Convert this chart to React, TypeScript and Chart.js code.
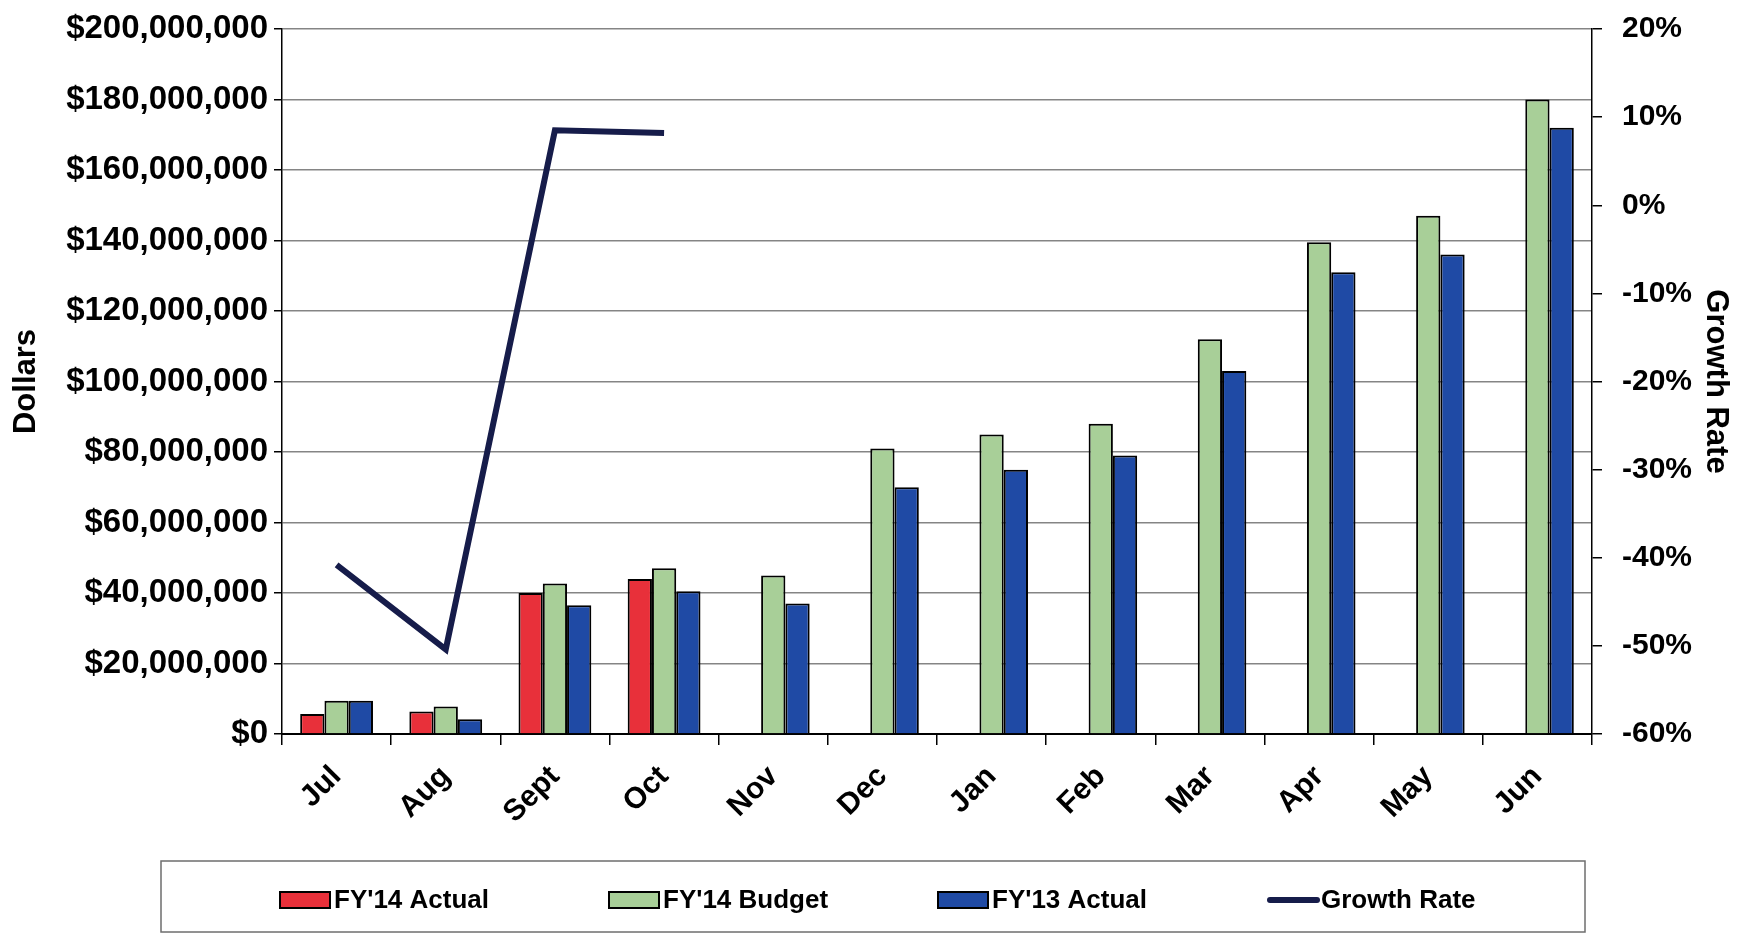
import React, { useEffect, useRef } from 'react';
import { Chart, registerables } from 'chart.js';

Chart.register(...registerables);

const months = ['Jul', 'Aug', 'Sept', 'Oct', 'Nov', 'Dec', 'Jan', 'Feb', 'Mar', 'Apr', 'May', 'Jun'];
const fy14Actual = [5.7e6, 6.4e6, 40.0e6, 44.0e6, null, null, null, null, null, null, null, null];
const fy14Budget = [9.4e6, 7.8e6, 42.7e6, 47.0e6, 45.0e6, 81.0e6, 85.0e6, 88.0e6, 112.0e6, 139.5e6, 147.0e6, 180.0e6];
const fy13Actual = [9.4e6, 4.2e6, 36.5e6, 40.5e6, 37.0e6, 70.0e6, 75.0e6, 79.0e6, 103.0e6, 131.0e6, 136.0e6, 172.0e6];
const growthRate = [-40.8, -50.4, 8.5, 8.2, null, null, null, null, null, null, null, null];

const FONT = "'Liberation Sans', Arial, Helvetica, sans-serif";

const boxLegend = {
  id: 'boxLegend',
  afterDraw(chart: any) {
    const ctx = chart.ctx as CanvasRenderingContext2D;
    const area = chart.chartArea;
    ctx.save();
    ctx.strokeStyle = '#6e6e6e';
    ctx.lineWidth = 1.5;
    ctx.strokeRect(161, 861, area.right - 7 - 161, 71);
    const startX = 280;
    const step = 329;
    const cy = 900;
    ctx.font = `bold 26px ${FONT}`;
    ctx.textBaseline = 'middle';
    ctx.textAlign = 'left';
    chart.data.datasets.forEach((ds: any, i: number) => {
      const x = startX + i * step;
      if (ds.type === 'line') {
        ctx.strokeStyle = ds.borderColor;
        ctx.lineWidth = 6;
        ctx.lineCap = 'round';
        ctx.beginPath();
        ctx.moveTo(x + 3, cy);
        ctx.lineTo(x + 50, cy);
        ctx.stroke();
      } else {
        ctx.fillStyle = ds.backgroundColor;
        ctx.fillRect(x, cy - 8, 50, 16);
        ctx.strokeStyle = '#000';
        ctx.lineWidth = 2;
        ctx.strokeRect(x, cy - 8, 50, 16);
      }
      ctx.fillStyle = '#000';
      ctx.fillText(ds.label, x + 54, cy + 1);
    });
    ctx.restore();
  },
};

export default function App() {
  const ref = useRef<HTMLCanvasElement>(null);

  useEffect(() => {
    if (!ref.current) return;
    const chart = new Chart(ref.current, {
      type: 'bar',
      data: {
        labels: months,
        datasets: [
          {
            type: 'bar',
            label: "FY'14 Actual",
            data: fy14Actual,
            backgroundColor: '#e8303a',
            borderColor: '#000',
            borderWidth: 2,
            barPercentage: 1,
            categoryPercentage: 0.667,
            yAxisID: 'y',
            order: 1,
          },
          {
            type: 'bar',
            label: "FY'14 Budget",
            data: fy14Budget,
            backgroundColor: '#a8cf98',
            borderColor: '#000',
            borderWidth: 2,
            barPercentage: 1,
            categoryPercentage: 0.667,
            yAxisID: 'y',
            order: 1,
          },
          {
            type: 'bar',
            label: "FY'13 Actual",
            data: fy13Actual,
            backgroundColor: '#1f4aa5',
            borderColor: '#000',
            borderWidth: 2,
            barPercentage: 1,
            categoryPercentage: 0.667,
            yAxisID: 'y',
            order: 1,
          },
          {
            type: 'line',
            label: 'Growth Rate',
            data: growthRate,
            borderColor: '#161c4a',
            backgroundColor: '#161c4a',
            borderWidth: 6,
            pointRadius: 0,
            tension: 0,
            spanGaps: false,
            yAxisID: 'y1',
            order: 0,
          } as any,
        ],
      },
      options: {
        responsive: false,
        animation: false,
        layout: { padding: { top: 29, left: 0, right: 0, bottom: 0 } },
        plugins: {
          legend: { display: false },
          tooltip: { enabled: false },
        },
        scales: {
          x: {
            offset: true,
            afterFit: (s: any) => { s.height = 939 - 734; },
            grid: {
              display: true,
              drawOnChartArea: false,
              offset: true,
              tickLength: 11,
              color: '#000',
              lineWidth: 1.5,
            },
            border: { display: true, color: '#000', width: 2 },
            ticks: {
              minRotation: 45,
              maxRotation: 45,
              padding: 14,
              color: '#000',
              font: { family: FONT, size: 30, weight: 'bold' },
            },
          },
          y: {
            position: 'left',
            min: 0,
            max: 200000000,
            afterFit: (s: any) => { s.width = 282; s.paddingTop = 0; s.paddingBottom = 0; },
            ticks: {
              stepSize: 20000000,
              padding: 6,
              color: '#000',
              font: { family: FONT, size: 33, weight: 'bold' },
              callback: (v: any) => '$' + Number(v).toLocaleString('en-US'),
            },
            grid: {
              color: '#858585',
              lineWidth: 1.5,
              tickLength: 8,
              tickColor: '#000',
            },
            border: { display: true, color: '#000', width: 1.5 },
            title: {
              display: true,
              text: 'Dollars',
              color: '#000',
              padding: { top: 8, bottom: 0 },
              font: { family: FONT, size: 31, weight: 'bold' },
            },
          },
          y1: {
            position: 'right',
            min: -60,
            max: 20,
            afterFit: (s: any) => { s.width = 1743 - 1592; s.paddingTop = 0; s.paddingBottom = 0; },
            ticks: {
              stepSize: 10,
              padding: 20,
              color: '#000',
              font: { family: FONT, size: 30, weight: 'bold' },
              callback: (v: any) => `${v}%`,
            },
            grid: {
              drawOnChartArea: false,
              tickLength: 10,
              color: '#000',
              lineWidth: 1.5,
            },
            border: { display: true, color: '#000', width: 1.5 },
            title: {
              display: true,
              text: 'Growth Rate',
              color: '#000',
              padding: { top: 9, bottom: 0 },
              font: { family: FONT, size: 31, weight: 'bold' },
            },
          },
        },
      },
      plugins: [boxLegend],
    });
    return () => chart.destroy();
  }, []);

  return (
    <div style={{ position: 'fixed', left: 0, top: 0, width: 1743, height: 939, background: '#fff' }}>
      <canvas ref={ref} width={1743} height={939} style={{ display: 'block' }} />
    </div>
  );
}
